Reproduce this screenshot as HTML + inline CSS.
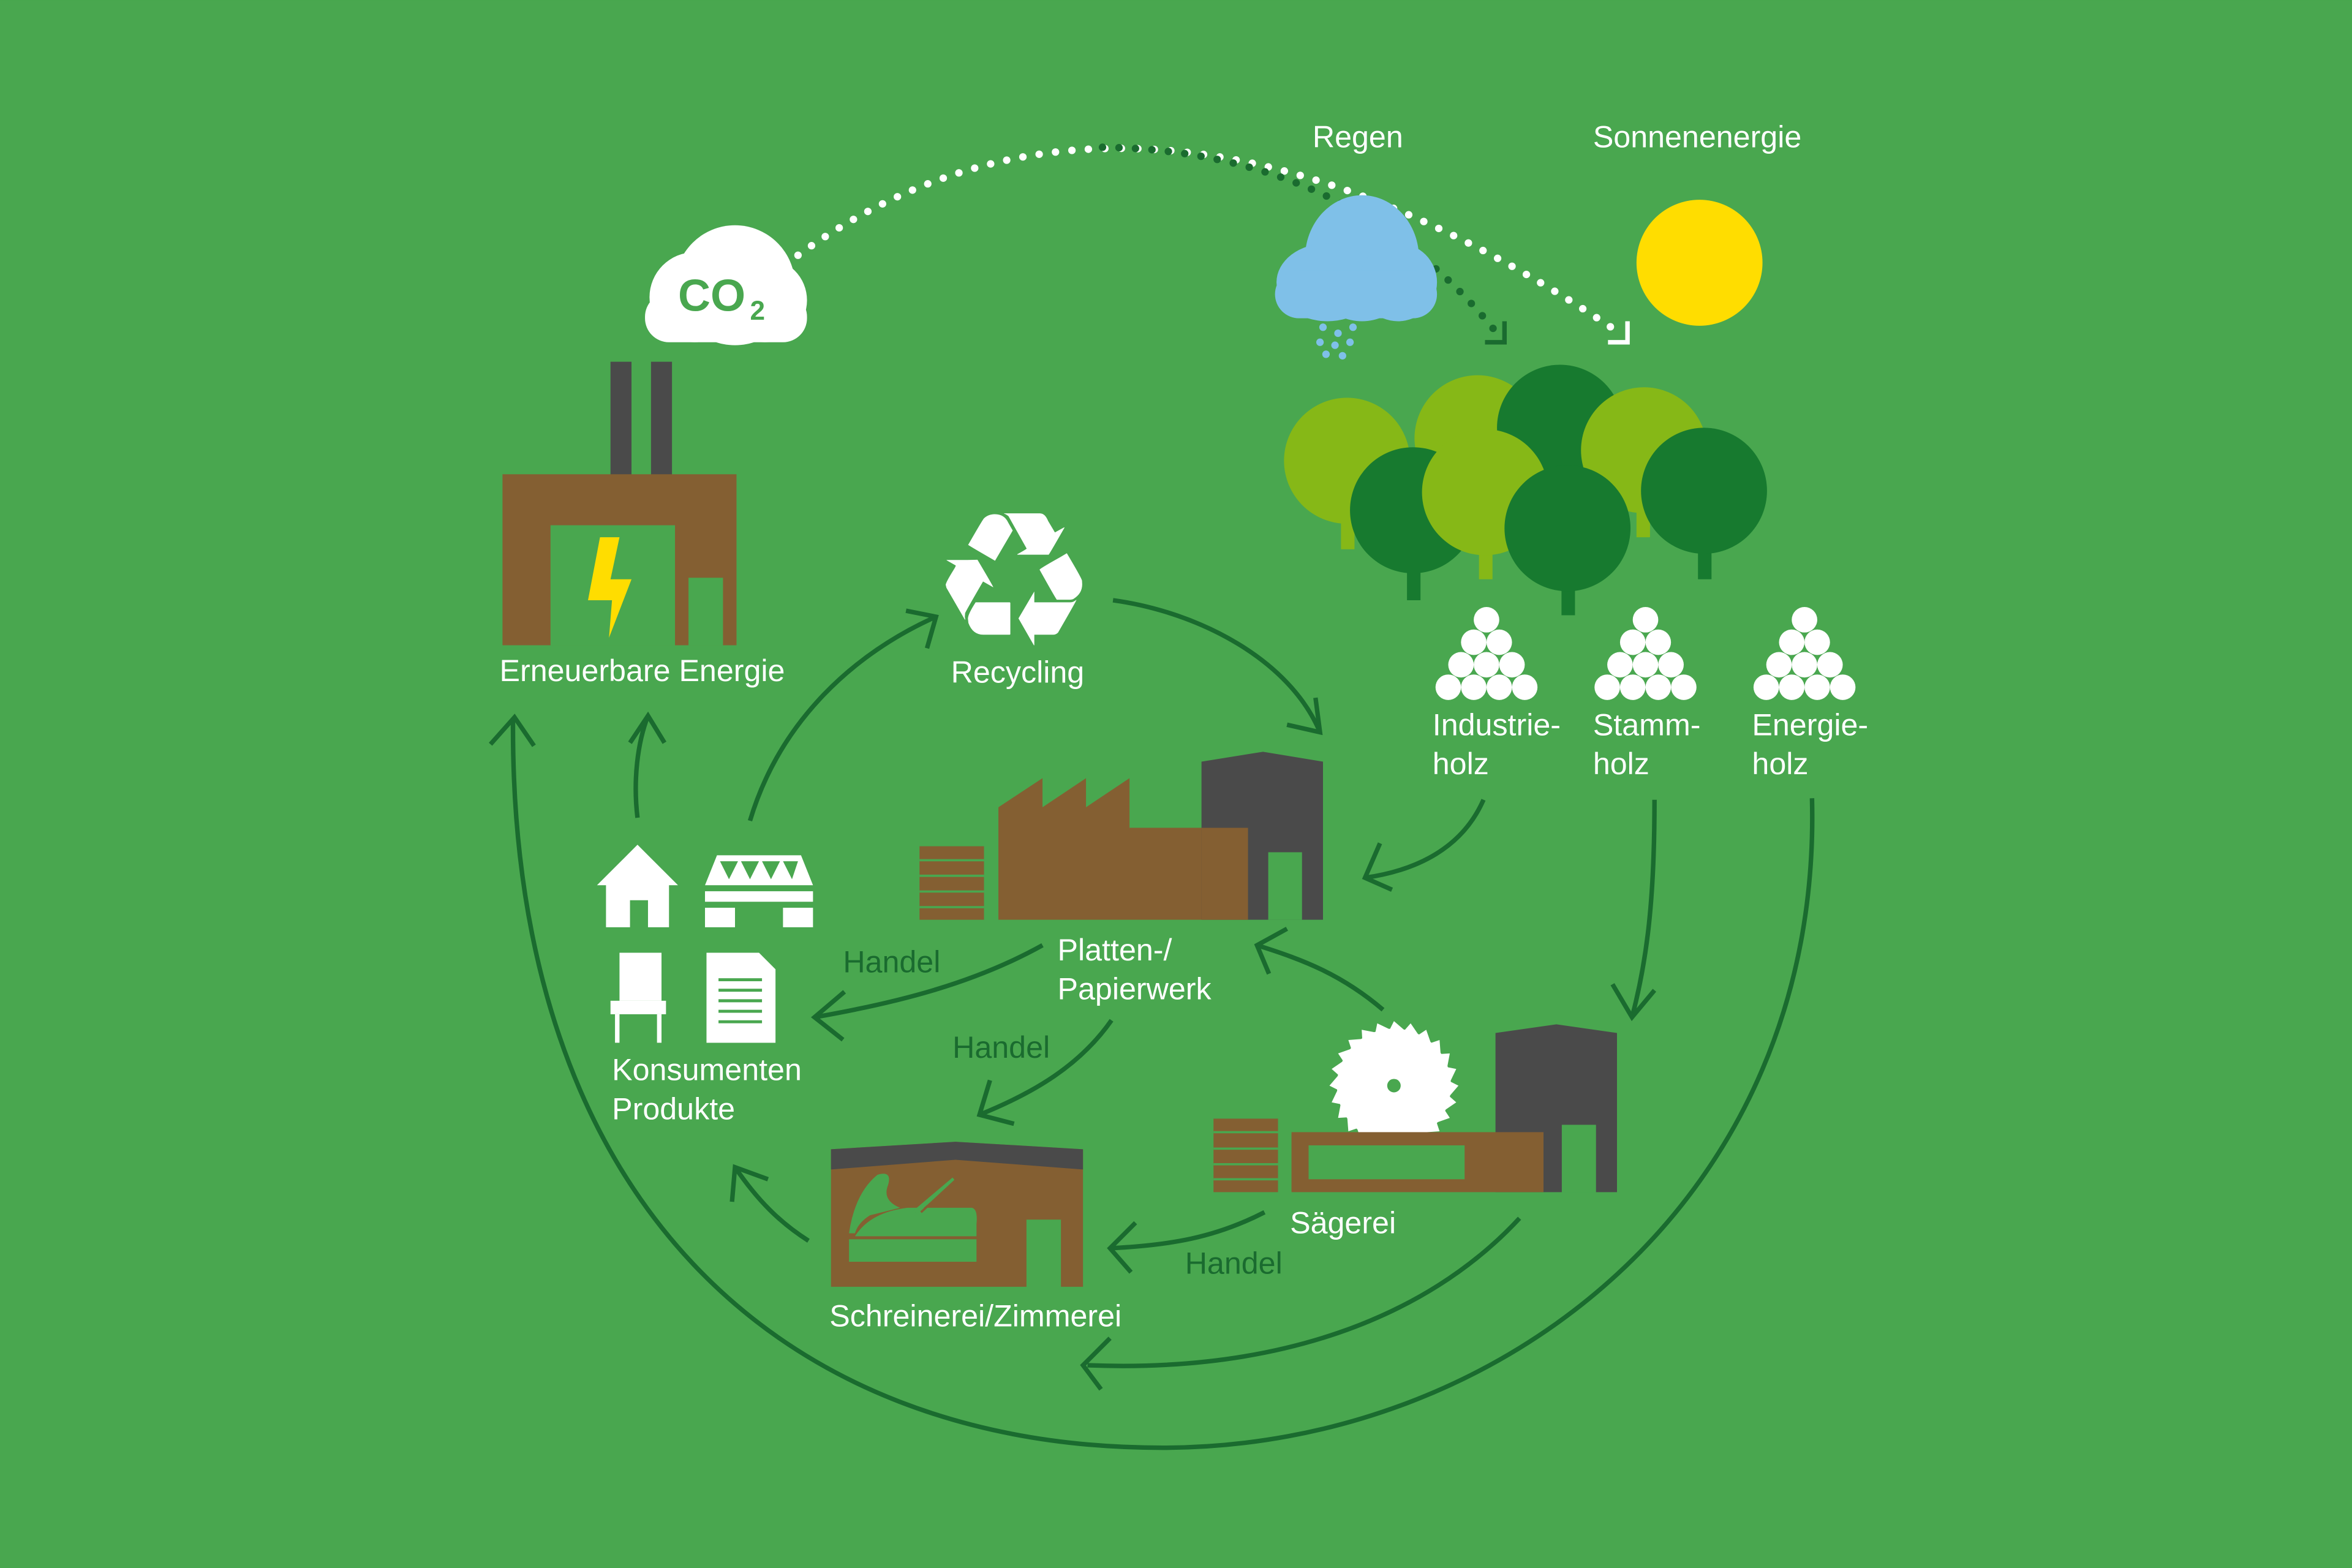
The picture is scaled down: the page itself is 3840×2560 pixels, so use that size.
<!DOCTYPE html>
<html><head><meta charset="utf-8"><style>
html,body{margin:0;padding:0;background:#49a74f;}
svg{display:block}
.w{fill:#fff;font-family:"Liberation Sans Narrow","Liberation Sans",sans-serif;font-size:20.5px}
.h{fill:#1a6b2f;font-family:"Liberation Sans Narrow","Liberation Sans",sans-serif;font-size:20.5px}
.a{fill:none;stroke:#1a6b2f;stroke-width:3}
</style></head><body>
<svg width="3840" height="2560" viewBox="0 0 1568 1045" xmlns="http://www.w3.org/2000/svg">
<rect width="1568" height="1045" fill="#49a74f"/>

<!-- dotted lines -->
<path d="M532,170 Q760,5 1080,222" fill="none" stroke="#fff" stroke-width="5" stroke-linecap="round" stroke-dasharray="0 11"/>
<path d="M735,98 Q900,100 998,222" fill="none" stroke="#1a6b2f" stroke-width="5" stroke-linecap="round" stroke-dasharray="0 11"/>
<path d="M1072,228 H1085 V214" fill="none" stroke="#fff" stroke-width="3"/>
<path d="M990,228 H1003 V214" fill="none" stroke="#1a6b2f" stroke-width="3"/>

<!-- rain cloud -->
<g fill="#7fc0e8">
<ellipse cx="908" cy="172" rx="38" ry="42"/>
<ellipse cx="885" cy="188" rx="34" ry="26"/>
<ellipse cx="932" cy="188" rx="26" ry="26"/>
<rect x="850" y="180" width="108" height="32" rx="16"/>
<circle cx="882" cy="218" r="2.5"/><circle cx="892" cy="222" r="2.5"/><circle cx="902" cy="218" r="2.5"/>
<circle cx="880" cy="228" r="2.5"/><circle cx="890" cy="230" r="2.5"/><circle cx="900" cy="228" r="2.5"/>
<circle cx="884" cy="236" r="2.5"/><circle cx="895" cy="237" r="2.5"/>
</g>
<text x="875" y="98" class="w">Regen</text>
<text x="1062" y="98" class="w">Sonnenenergie</text>
<circle cx="1133" cy="175" r="42" fill="#ffdd00"/>

<!-- CO2 cloud -->
<g fill="#fff">
<circle cx="490" cy="190" r="40"/>
<circle cx="463" cy="198" r="30"/>
<circle cx="510" cy="200" r="28"/>
<rect x="430" y="195" width="108" height="33" rx="16"/>
</g>
<text x="452" y="207" font-family="Liberation Sans,sans-serif" font-weight="bold" font-size="30" fill="#49a74f">CO</text>
<text x="500" y="213" font-family="Liberation Sans,sans-serif" font-weight="bold" font-size="18" fill="#49a74f">2</text>

<!-- power plant -->
<rect x="407" y="241" width="14" height="76" fill="#4a4a4a"/>
<rect x="434" y="241" width="14" height="76" fill="#4a4a4a"/>
<rect x="335" y="316" width="156" height="114" fill="#845f32"/>
<rect x="367" y="350" width="83" height="80" fill="#49a74f"/>
<rect x="459" y="385" width="23" height="45" fill="#49a74f"/>
<polygon points="400,358 413,358 407,386 421,386 406,425 408,400 392,400" fill="#ffdd00"/>
<text x="333" y="454" class="w">Erneuerbare Energie</text>

<!-- recycling -->
<text x="676" y="430" text-anchor="middle" font-family="DejaVu Sans,sans-serif" font-size="125" fill="#fff">♻</text>
<text x="634" y="455" class="w">Recycling</text>

<!-- trees -->
<g>
<rect x="894" y="330" width="9" height="36" fill="#86b817"/>
<circle cx="898" cy="307" r="42" fill="#86b817"/>
<circle cx="985" cy="292" r="42" fill="#86b817"/>
<circle cx="1040" cy="285" r="42" fill="#177a2f"/>
<rect x="1091" y="320" width="9" height="38" fill="#86b817"/>
<circle cx="1096" cy="300" r="42" fill="#86b817"/>
<rect x="938" y="360" width="9" height="40" fill="#177a2f"/>
<circle cx="942" cy="340" r="42" fill="#177a2f"/>
<rect x="986" y="350" width="9" height="36" fill="#86b817"/>
<circle cx="990" cy="328" r="42" fill="#86b817"/>
<rect x="1041" y="375" width="9" height="35" fill="#177a2f"/>
<circle cx="1045" cy="352" r="42" fill="#177a2f"/>
<rect x="1132" y="350" width="9" height="36" fill="#177a2f"/>
<circle cx="1136" cy="327" r="42" fill="#177a2f"/>
</g>

<!-- log piles -->
<g fill="#fff" id="p1">
<circle cx="991" cy="413" r="8.5"/>
<circle cx="982.5" cy="428" r="8.5"/><circle cx="999.5" cy="428" r="8.5"/>
<circle cx="974" cy="443" r="8.5"/><circle cx="991" cy="443" r="8.5"/><circle cx="1008" cy="443" r="8.5"/>
<circle cx="965.5" cy="458" r="8.5"/><circle cx="982.5" cy="458" r="8.5"/><circle cx="999.5" cy="458" r="8.5"/><circle cx="1016.5" cy="458" r="8.5"/>
</g>
<use href="#p1" x="106"/>
<use href="#p1" x="212"/>
<text x="955" y="490" class="w">Industrie-</text><text x="955" y="516" class="w">holz</text>
<text x="1062" y="490" class="w">Stamm-</text><text x="1062" y="516" class="w">holz</text>
<text x="1168" y="490" class="w">Energie-</text><text x="1168" y="516" class="w">holz</text>

<!-- Platten factory -->
<rect x="613" y="564" width="43" height="49" fill="#845f32"/>
<g stroke="#49a74f" stroke-width="1.5"><line x1="613" y1="573.3" x2="656" y2="573.3"/><line x1="613" y1="583.7" x2="656" y2="583.7"/><line x1="613" y1="594.2" x2="656" y2="594.2"/><line x1="613" y1="604.6" x2="656" y2="604.6"/></g>
<polygon points="665.6,538 695,518.6 695,538 724,518.6 724,538 753,518.6 753,551.7 832,551.7 832,613 665.6,613" fill="#845f32"/>
<polygon points="801,507.6 842,501 882,507.6 882,613 801,613" fill="#4a4a4a"/>
<rect x="801" y="551.7" width="31" height="61.3" fill="#845f32"/>
<rect x="845.5" y="568" width="22.5" height="45" fill="#49a74f"/>
<text x="705" y="640" class="w">Platten-/</text><text x="705" y="666" class="w">Papierwerk</text>

<!-- consumer icons -->
<g fill="#fff">
<polygon points="398,590 425,563 452,590 446,590 446,618 432,618 432,600 420,600 420,618 404,618 404,590"/>
<path d="M470,590 L478,570 H534 L542,590 Z" fill="#fff"/>
<polygon points="480,574 486,586 492,574" fill="#49a74f"/><polygon points="494,574 500,586 506,574" fill="#49a74f"/><polygon points="508,574 514,586 520,574" fill="#49a74f"/><polygon points="522,574 528,586 532,574" fill="#49a74f"/>
<rect x="470" y="594" width="72" height="7"/>
<rect x="470" y="605" width="20" height="13"/><rect x="522" y="605" width="20" height="13"/>
<rect x="413" y="635" width="28" height="32"/>
<rect x="407" y="667" width="37" height="9"/>
<rect x="410" y="676" width="3" height="19"/><rect x="438" y="676" width="3" height="19"/>
<path d="M471,635 H506 L517,646 V695 H471 Z"/>
</g>
<g stroke="#49a74f" stroke-width="2"><line x1="479" y1="653" x2="508" y2="653"/><line x1="479" y1="660" x2="508" y2="660"/><line x1="479" y1="667" x2="508" y2="667"/><line x1="479" y1="674" x2="508" y2="674"/><line x1="479" y1="681" x2="508" y2="681"/></g>
<text x="408" y="720" class="w">Konsumenten</text><text x="408" y="746" class="w">Produkte</text>

<!-- Sägerei -->
<g transform="translate(929.3,723.6)" fill="#fff">
<circle r="38"/>
<g id="t"><polygon points="0,-43 7,-37 -3,-37"/></g>
<use href="#t" transform="rotate(15)"/><use href="#t" transform="rotate(30)"/><use href="#t" transform="rotate(45)"/><use href="#t" transform="rotate(60)"/><use href="#t" transform="rotate(75)"/><use href="#t" transform="rotate(90)"/><use href="#t" transform="rotate(105)"/><use href="#t" transform="rotate(120)"/><use href="#t" transform="rotate(135)"/><use href="#t" transform="rotate(150)"/><use href="#t" transform="rotate(165)"/><use href="#t" transform="rotate(180)"/><use href="#t" transform="rotate(195)"/><use href="#t" transform="rotate(210)"/><use href="#t" transform="rotate(225)"/><use href="#t" transform="rotate(240)"/><use href="#t" transform="rotate(255)"/><use href="#t" transform="rotate(270)"/><use href="#t" transform="rotate(285)"/><use href="#t" transform="rotate(300)"/><use href="#t" transform="rotate(315)"/><use href="#t" transform="rotate(330)"/><use href="#t" transform="rotate(345)"/>
<circle r="4.5" fill="#49a74f"/>
</g>
<polygon points="997,688.5 1037.6,682.7 1078,688.5 1078,794.6 997,794.6" fill="#4a4a4a"/>
<rect x="1041.2" y="749.7" width="22.8" height="45" fill="#49a74f"/>
<rect x="861" y="754.6" width="168" height="40" fill="#845f32"/>
<rect x="872.4" y="763.4" width="104" height="22.6" fill="#49a74f"/>
<rect x="809" y="745.6" width="43" height="49" fill="#845f32"/>
<g stroke="#49a74f" stroke-width="1.5"><line x1="809" y1="754.6" x2="852" y2="754.6"/><line x1="809" y1="765.6" x2="852" y2="765.6"/><line x1="809" y1="776" x2="852" y2="776"/><line x1="809" y1="786" x2="852" y2="786"/></g>
<text x="860" y="822" class="w">Sägerei</text>

<!-- Schreinerei -->
<polygon points="554,766 637,761 722,766 722,857.7 554,857.7" fill="#845f32"/>
<polygon points="554,766 637,761 722,766 722,779.5 637,773 554,779.5" fill="#4a4a4a"/>
<rect x="684.3" y="812.9" width="23" height="45" fill="#49a74f"/>
<g fill="#49a74f">
<rect x="566" y="826" width="85" height="15"/>
<path d="M570,824 Q580,808 605,805 L648,805 Q652,806 651,816 L651,824 Z"/>
<path d="M566,822 Q570,795 585,783 Q595,780 592,790 Q588,800 600,805 L580,810 Q572,815 570,822 Z"/>
<line x1="610" y1="808" x2="636" y2="786" stroke="#49a74f" stroke-width="3"/>
</g>
<line x1="614" y1="808" x2="640" y2="784" stroke="#845f32" stroke-width="1.5"/>
<text x="553" y="884" class="w">Schreinerei/Zimmerei</text>

<!-- arrows -->
<g class="a">
<path d="M1208,532 C1215,800 1000,965 775,965 C520,965 340,800 342,480"/>
<path d="M327,496 L343,478 L356,497"/>
<path d="M1013,812 C950,880 850,915 725,910"/>
<path d="M740,892 L722,910 L734,926"/>
<path d="M1103,533 C1103,600 1098,640 1088,678"/>
<path d="M1075,656 L1088,678 L1103,660"/>
<path d="M989,533 C975,565 945,580 910,585"/>
<path d="M920,562 L910,585 L928,593"/>
<path d="M742,400 C800,408 860,440 880,488"/>
<path d="M877,465 L880,488 L858,483"/>
<path d="M922,673 C895,650 870,640 838,630"/>
<path d="M858,619 L838,630 L846,649"/>
<path d="M695,630 C650,655 600,668 543,678"/>
<path d="M563,661 L543,678 L562,693"/>
<path d="M741,680 C720,710 690,728 653,743"/>
<path d="M660,720 L653,743 L676,749"/>
<path d="M843,808 C810,825 780,830 740,832"/>
<path d="M757,815 L740,832 L754,848"/>
<path d="M539,827 C520,815 505,800 490,778"/>
<path d="M488,801 L490,778 L512,786"/>
<path d="M425,545 C422,520 425,495 432,477"/>
<path d="M420,495 L432,477 L443,495"/>
<path d="M500,547 C520,480 570,435 624,411"/>
<path d="M604,407 L624,411 L618,432"/>
</g>
<text x="562" y="648" class="h">Handel</text>
<text x="635" y="705" class="h">Handel</text>
<text x="790" y="849" class="h">Handel</text>
</svg>
</body></html>
